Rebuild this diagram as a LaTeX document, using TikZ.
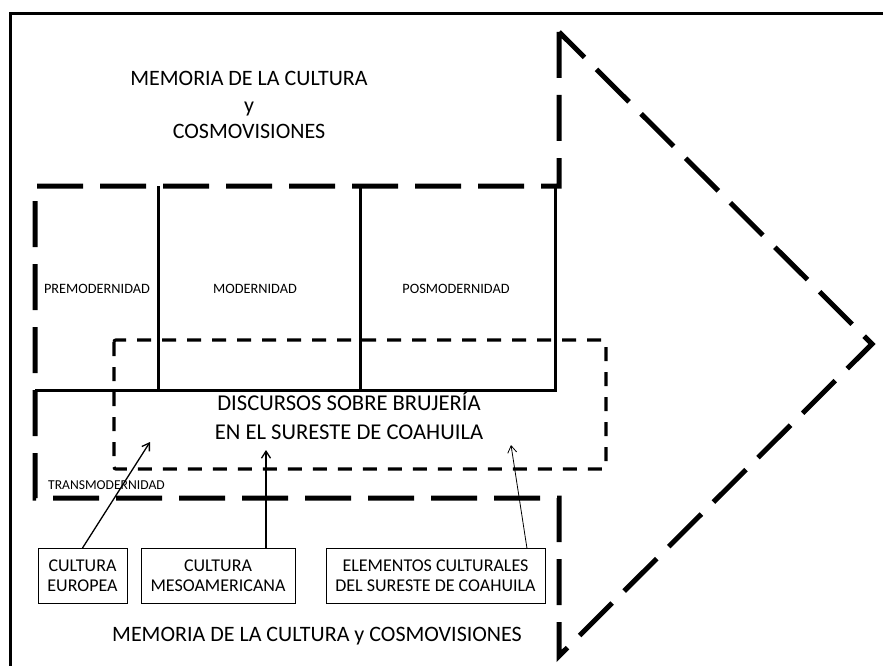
\documentclass[tikz,border=0pt]{standalone}
\usepackage{fontspec}
\setmainfont{Carlito}
\usetikzlibrary{arrows.meta}
\tikzset{
  bigdash/.style={line width=5pt, dash pattern=on 46pt off 17pt},
  smalldash/.style={line width=3.2pt, dash pattern=on 14pt off 11pt, rounded corners=2pt},
  period/.style={line width=3pt},
  bigtext/.style={inner sep=0pt, align=center, font=\fontsize{22}{26.5}\selectfont},
  periodtext/.style={inner sep=0pt, font=\fontsize{14.3}{17}\selectfont},
  sourcebox/.style={draw, line width=1pt, minimum height=55pt, inner sep=0pt, align=center, font=\fontsize{18}{20}\selectfont},
  feed/.style={line width=1.3pt, -{Straight Barb[length=7pt,width=9pt]}},
}
\begin{document}
\begin{tikzpicture}[x=1pt, y=-1pt]
  \useasboundingbox (0,0) rectangle (883,666);
  \draw[line width=3pt] (883,14) -- (10,14) -- (10,666);
  \draw[bigdash] (559,32) -- (559,186) -- (35,186) -- (35,498) -- (559,498) -- (559,656) -- (872,344) -- cycle;
  \draw[period] (35,390) -- (555,390) -- (555,186);
  \draw[period] (158,186) -- (158,390);
  \draw[period] (360,186) -- (360,390);
  \draw[smalldash] (114,340) rectangle (606,469);

  \node[bigtext] (memTop) at (249,105) {MEMORIA DE LA CULTURA\\y\\COSMOVISIONES};
  \node[periodtext] (pre) at (97,289) {PREMODERNIDAD};
  \node[periodtext] (mod) at (255,289) {MODERNIDAD};
  \node[periodtext] (pos) at (456,289) {POSMODERNIDAD};
  \node[periodtext, anchor=west, font=\fontsize{13.6}{16}\selectfont] (trans) at (48,485) {TRANSMODERNIDAD};
  \node[bigtext, font=\fontsize{22.6}{29}\selectfont] (disc) at (349,416) {DISCURSOS SOBRE BRUJERÍA\\EN EL SURESTE DE COAHUILA};
  \node[bigtext] (memBottom) at (317,636) {MEMORIA DE LA CULTURA y COSMOVISIONES};

  \node[sourcebox, minimum width=89pt] (eur) at (82.5,576) {CULTURA\\EUROPEA};
  \node[sourcebox, minimum width=154pt] (meso) at (218,576) {CULTURA\\MESOAMERICANA};
  \node[sourcebox, minimum width=219pt] (elem) at (435.5,576) {ELEMENTOS CULTURALES\\DEL SURESTE DE COAHUILA};

  \coordinate (eurHead) at (150,442);
  \coordinate (mesoHead) at (266,450);
  \coordinate (elemHead) at (511,445);
  \coordinate (elemFoot) at (527,548.5);
  \draw[feed] (eur.north) -- (eurHead);
  \draw[feed] (meso.north -| mesoHead) -- (mesoHead);
  \draw[feed, line width=0.8pt] (elemFoot) -- (elemHead);
\end{tikzpicture}
\end{document}
